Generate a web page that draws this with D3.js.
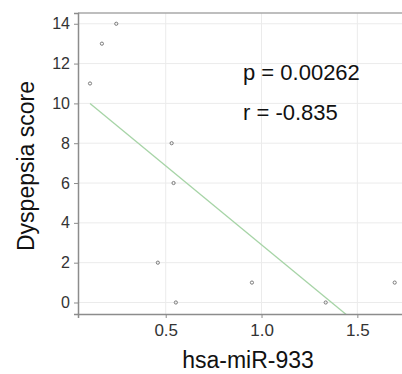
<!DOCTYPE html>
<html>
<head>
<meta charset="utf-8">
<script src="https://cdn.jsdelivr.net/npm/d3@7"></script>
<style>
  body { margin: 0; background: #fff; }
  text { font-family: "Liberation Sans", Arial, sans-serif; }
</style>
</head>
<body>
<figure id="scatter" style="margin:0"></figure>
<script>
// values
const mirLevel = [0.105, 0.167, 0.242, 0.531, 0.541, 0.459, 0.553, 0.95, 1.335, 1.695];
const dyspepsia = [11, 13, 14, 8, 6, 2, 0, 1, 0, 1];
const xTicks = [0.5, 1.0, 1.5];
const yTicks = [0, 2, 4, 6, 8, 10, 12, 14];
const fitIntercept = 10.83;
const fitSlope = -7.93;
const statLabels = ["p = 0.00262", "r = -0.835"];

const width = 402;
const height = 374;
// panel box (right side runs past the picture edge)
const panel = { left: 78, top: 13, right: 420, bottom: 314 };

const svg = d3.select("figure#scatter")
  .append("svg")
  .attr("width", width)
  .attr("height", height);

const x = d3.scaleLinear().domain([0.0423, 1.827]).range([panel.left, panel.right]);
const y = d3.scaleLinear().domain([-0.578, 14.54]).range([panel.bottom, panel.top]);

svg.append("clipPath").attr("id", "panel")
  .append("rect")
  .attr("x", panel.left).attr("y", panel.top)
  .attr("width", panel.right - panel.left).attr("height", panel.bottom - panel.top);

// grid
svg.append("g")
  .selectAll("line")
  .data(yTicks)
  .enter()
  .append("line")
  .attr("x1", panel.left).attr("x2", panel.right)
  .attr("y1", d => y(d)).attr("y2", d => y(d))
  .attr("stroke", "#ebebeb")
  .attr("stroke-width", 1);

svg.append("g")
  .selectAll("line")
  .data(xTicks)
  .enter()
  .append("line")
  .attr("y1", panel.top).attr("y2", panel.bottom)
  .attr("x1", d => x(d)).attr("x2", d => x(d))
  .attr("stroke", "#ebebeb")
  .attr("stroke-width", 1);

// top border
svg.append("line")
  .attr("x1", panel.left).attr("x2", panel.right)
  .attr("y1", panel.top).attr("y2", panel.top)
  .attr("stroke", "#a8a8a8")
  .attr("stroke-width", 1.5);

// regression line
const line = d3.line().x(d => x(d)).y(d => y(fitIntercept + fitSlope * d));
svg.append("path")
  .datum(d3.extent(mirLevel))
  .attr("d", line)
  .attr("clip-path", "url(#panel)")
  .attr("fill", "none")
  .attr("stroke", "#a6d4a6")
  .attr("stroke-width", 1.3);

// points
svg.append("g")
  .selectAll("circle")
  .data(mirLevel)
  .enter()
  .append("circle")
  .attr("cx", d => x(d))
  .attr("cy", (d, i) => y(dyspepsia[i]))
  .attr("r", 1.6)
  .attr("fill", "none")
  .attr("stroke", "#7a7a7a")
  .attr("stroke-width", 1);

// axes
const xAxis = svg.append("g")
  .attr("transform", "translate(0," + panel.bottom + ")")
  .call(d3.axisBottom(x).tickValues(xTicks).tickFormat(d3.format(".1f")).tickSize(4).tickPadding(6));

const yAxis = svg.append("g")
  .attr("transform", "translate(" + panel.left + ",0)")
  .call(d3.axisLeft(y).tickValues(yTicks).tickSize(4).tickPadding(4));

[xAxis, yAxis].forEach(g => {
  g.select(".domain").attr("stroke", "#8c8c8c").attr("stroke-width", 1.5);
  g.selectAll(".tick line").attr("stroke", "#8c8c8c");
  g.selectAll(".tick text")
    .attr("fill", "#333")
    .style("font-size", "17px")
    .style("font-family", "'Liberation Sans', Arial, sans-serif");
});
yAxis.selectAll(".tick text").style("font-size", "16px");

// titles
svg.append("text")
  .text("hsa-miR-933")
  .attr("x", 248)
  .attr("y", 368)
  .style("text-anchor", "middle")
  .style("font-size", "23px")
  .attr("fill", "#111");

svg.append("text")
  .text("Dyspepsia score")
  .attr("transform", "translate(34,166) rotate(-90)")
  .style("text-anchor", "middle")
  .style("font-size", "23px")
  .attr("fill", "#111");

// stats
svg.append("g")
  .selectAll("text")
  .data(statLabels)
  .enter()
  .append("text")
  .text(d => d)
  .attr("x", 243)
  .attr("y", (d, i) => 80 + i * 40)
  .style("font-size", "22px")
  .attr("fill", "#111");
</script>
</body>
</html>
